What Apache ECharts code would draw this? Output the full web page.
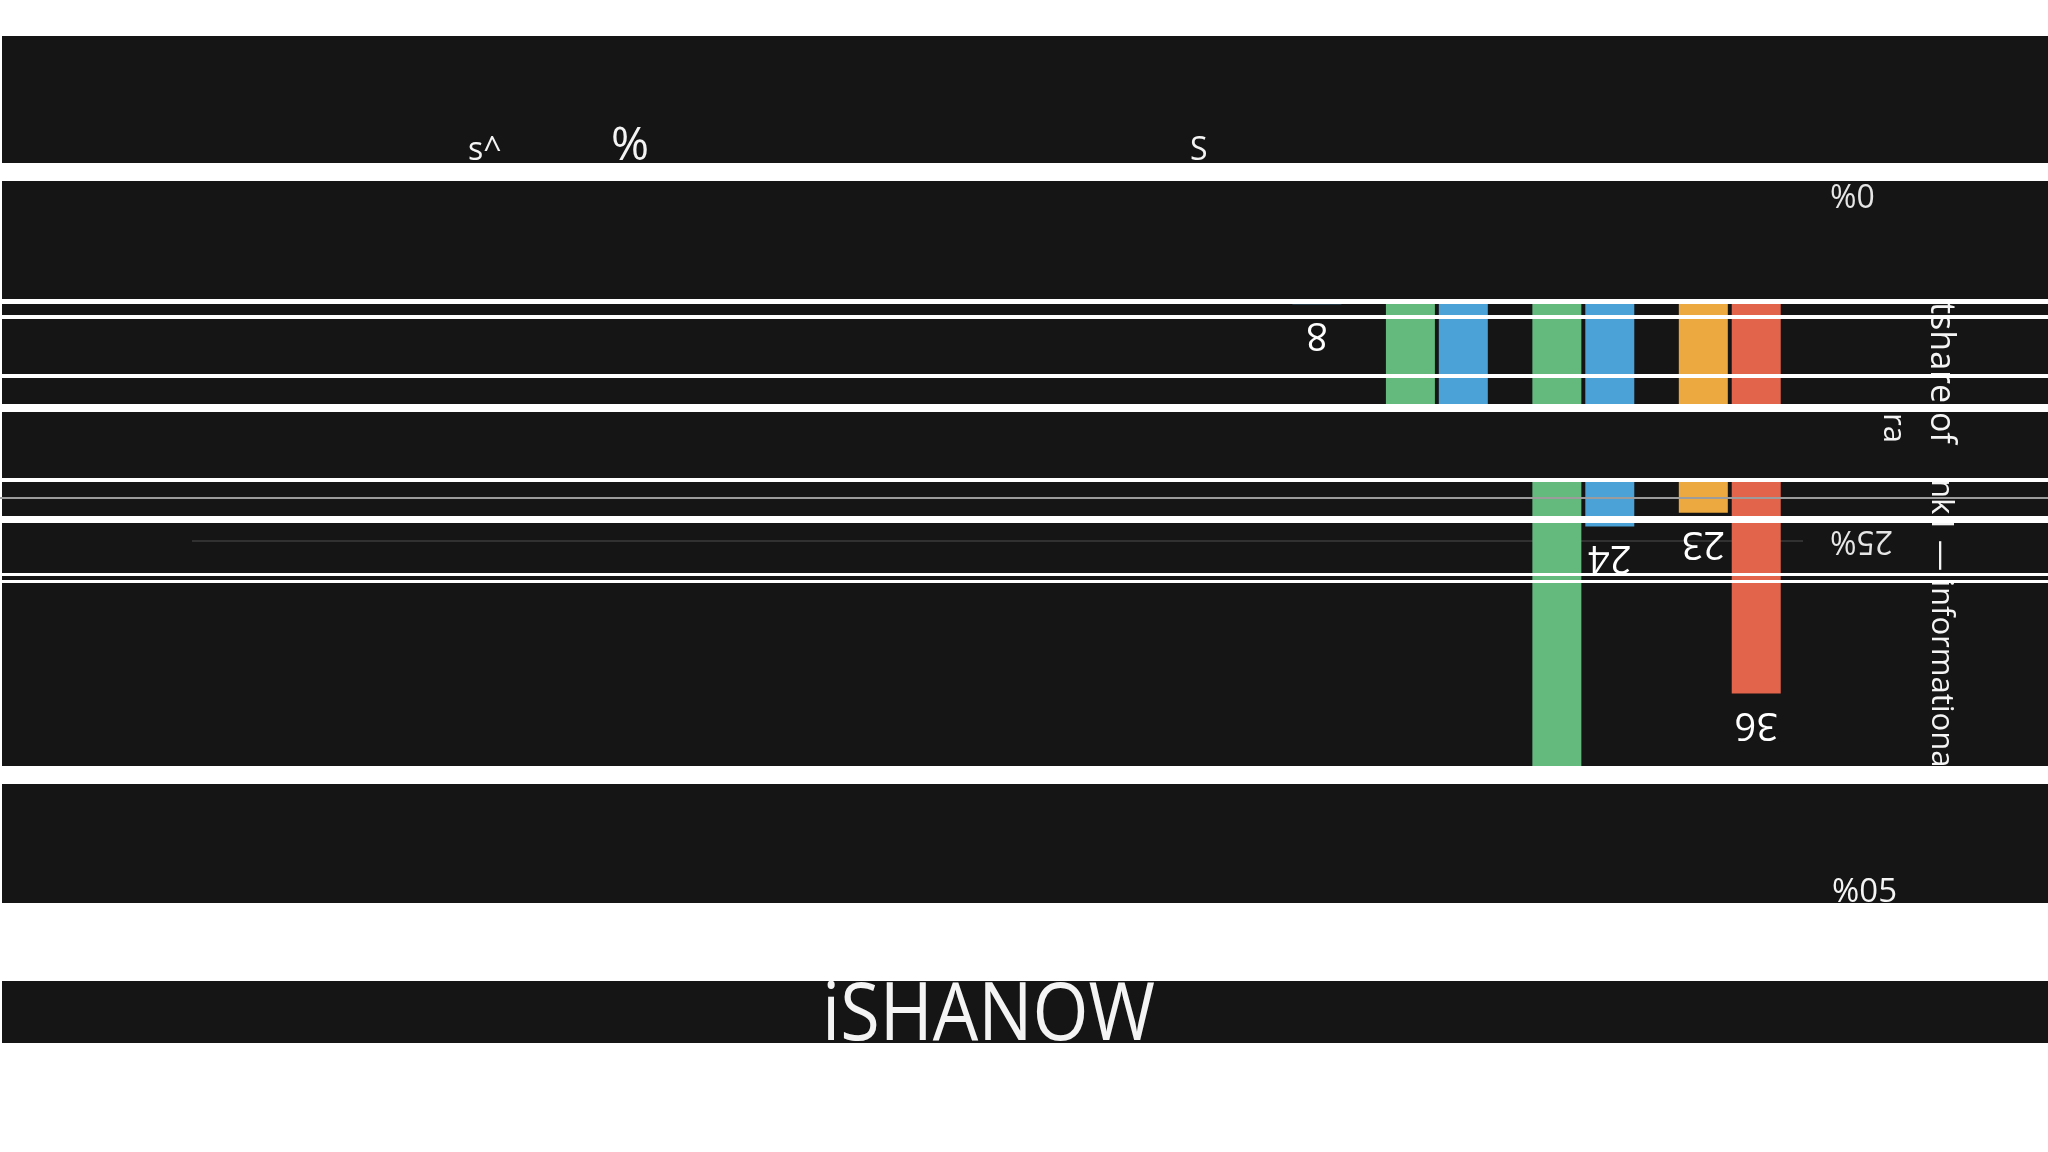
<!DOCTYPE html>
<html>
<head>
<meta charset="utf-8">
<script src="https://cdn.jsdelivr.net/npm/echarts@6/dist/echarts.min.js"></script>
<style>
html,body{margin:0;padding:0;background:#ffffff;}
#chart{width:2048px;height:1152px;}
</style>
</head>
<body>
<div id="chart"></div>
<script>
// ---- data (category axis runs right-to-left, as in the picture) ----
const categories   = ['1', '2', '3', '4', '5', '6', '7', '8', '9', '10', '11'];
const greenValues  = [null, 44, 16, null, null, null, null, null, null, null, null];
const orangeValues = [23, null, null, null, null, null, null, null, null, null, null];
const blueValues   = [null, 24, 17, 8, null, null, null, null, null, null, null];
const redValues    = [36, null, null, null, null, null, null, null, null, null, null];
const yTickValues  = [0, 25, 50];
const yTickLabels  = ['0%', '25%', '50%'];

// ---- visible text fragments ----
const topFragments   = ['s^', '%', 'S'];
const titleFragments = ['tshare of', 'ra', 'nk1 \u2014 informationa'];
const bottomWord     = 'iSHANOW';
const stray50        = '%05';

const DARK = '#151515';
const TEXT = '#f4f4f4';
const FONT = 'Open Sans';

const chart = echarts.init(document.getElementById('chart'), null, {renderer: 'canvas'});

function barLabel() {
  return {
    show: true, position: 'bottom', distance: 30, rotate: 180,
    align: 'center', verticalAlign: 'middle',
    color: '#ffffff', fontSize: 38, fontFamily: FONT
  };
}

function rect(x, y, w, h, fill, z) {
  return {type: 'rect', z: z, silent: true, shape: {x: x, y: y, width: w, height: h}, style: {fill: fill}};
}
function txt(str, x, y, size, z, extra) {
  return Object.assign({
    type: 'text', z: z, silent: true, x: x, y: y,
    style: {text: str, fill: TEXT, fontSize: size, fontFamily: FONT,
            align: 'left', textAlign: 'left', verticalAlign: 'middle', textVerticalAlign: 'middle'}
  }, extra || {});
}

const graphics = [
  // dark bands (below the chart)
  rect(2, 36, 2046, 127, DARK, 0),
  rect(2, 181, 2046, 722, DARK, 0),
  rect(2, 981, 2046, 62, DARK, 0),
  // dark slices that hide parts of the chart
  rect(2, 181, 1813, 118, DARK, 4),
  rect(2, 412, 2046, 66, DARK, 4),
  rect(2, 784, 2046, 119, DARK, 4),
  // text fragments
  txt(topFragments[0], 468, 151, 32, 6),
  txt(topFragments[1], 611, 147, 46, 6),
  txt(topFragments[2], 1190, 151, 32, 6),
  txt(titleFragments[0], 1941, 302, 34, 6, {rotation: -Math.PI / 2}),
  txt(titleFragments[1], 1893, 413, 31, 6, {rotation: -Math.PI / 2}),
  txt(titleFragments[2], 1941, 479, 31, 6, {rotation: -Math.PI / 2}),
  txt(stray50, 1832, 893, 33, 6),
  txt(bottomWord, 822, 1017, 80, 6, {scaleX: 0.9}),
  // white stripes across everything
  rect(0, 299, 2048, 5, '#ffffff', 8),
  rect(0, 315, 2048, 4, '#ffffff', 8),
  rect(0, 374, 2048, 4, '#ffffff', 8),
  rect(0, 404, 2048, 8, '#ffffff', 8),
  rect(0, 478, 2048, 4, '#ffffff', 8),
  rect(0, 497, 2048, 2, '#9c9c9c', 8),
  rect(0, 516, 2048, 7, '#ffffff', 8),
  rect(0, 573, 2048, 3, '#ffffff', 8),
  rect(0, 580, 2048, 3, '#ffffff', 8),
  rect(0, 766, 2048, 18, '#ffffff', 8)
];

chart.setOption({
  backgroundColor: '#ffffff',
  animation: false,
  grid: {left: 192, right: 245, top: 193, bottom: 264, containLabel: false},
  xAxis: {
    type: 'category', data: categories, inverse: true,
    axisLine: {show: false}, axisTick: {show: false}, axisLabel: {show: false}, splitLine: {show: false}
  },
  yAxis: {
    type: 'value', inverse: true, position: 'right', z: 1,
    min: yTickValues[0], max: yTickValues[yTickValues.length - 1], interval: 25,
    axisLine: {show: false}, axisTick: {show: false},
    splitLine: {show: true, lineStyle: {color: '#3b3b3b', width: 1.5}},
    axisLabel: {
      show: true, rotate: 180, margin: 27, fontSize: 32, fontFamily: FONT, color: '#e6e6e6',
      formatter: function (v) {
        const i = yTickValues.indexOf(v);
        return (i >= 0 && v !== 50) ? yTickLabels[i] : '';
      }
    }
  },
  series: [
    {name: 'green', type: 'bar', stack: 'left', data: greenValues, barWidth: 49, barGap: '8%',
     itemStyle: {color: '#64b97d'}, label: barLabel(), z: 2},
    {name: 'orange', type: 'bar', stack: 'left', data: orangeValues, barWidth: 49, barGap: '8%',
     itemStyle: {color: '#eba93f'}, label: barLabel(), z: 2},
    {name: 'blue', type: 'bar', stack: 'right', data: blueValues, barWidth: 49, barGap: '8%',
     itemStyle: {color: '#4ba2d6'}, label: barLabel(), z: 2},
    {name: 'red', type: 'bar', stack: 'right', data: redValues, barWidth: 49, barGap: '8%',
     itemStyle: {color: '#e1644b'}, label: barLabel(), z: 2}
  ],
  graphic: {elements: graphics}
});
</script>
</body>
</html>
